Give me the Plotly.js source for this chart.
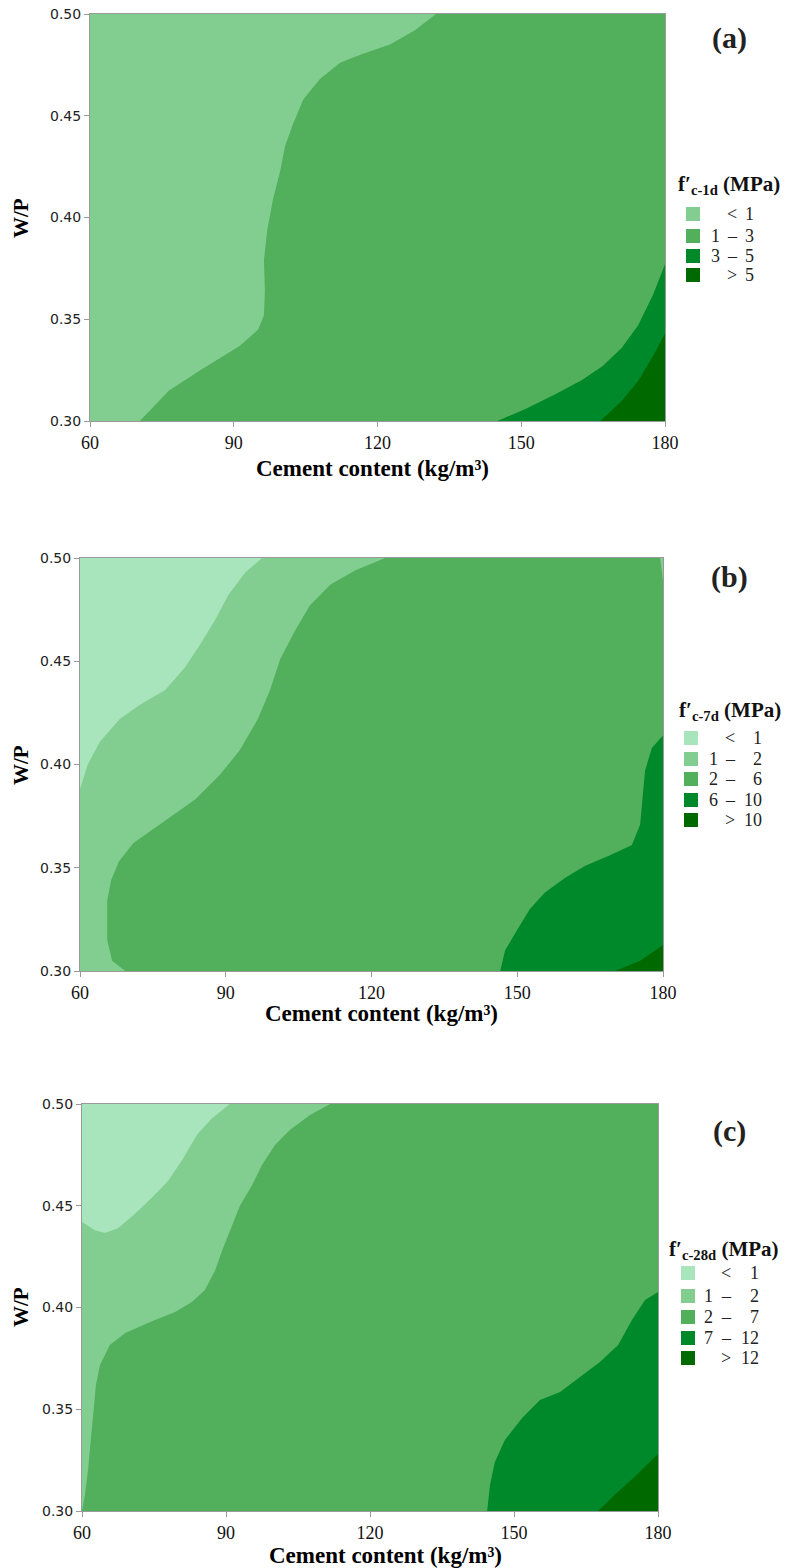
<!DOCTYPE html>
<html><head><meta charset="utf-8">
<script src="https://cdn.plot.ly/plotly-3.0.1.min.js"></script>
<style>html,body{margin:0;padding:0;background:#fff}</style>
</head><body><div id="chart" style="width:788px;height:1568px"></div>
<script>
// ---- axis ticks ----
const xTicks = [60, 90, 120, 150, 180];
const yTicks = [0.30, 0.35, 0.40, 0.45, 0.50];
const colors = ['#a8e4bc', '#82cd90', '#52b05c', '#00892a', '#006a00'];

// ---- panel (a) boundaries: f'c-1d ----
const a1x = [132.2,127.8,122.6,116.4,112.2,108.0,104.5,102.2,100.7,99.7,98.2,97.0,96.3,96.5,96.3,95.1,91.3,83.0,76.5,70.4];
const a1y = [0.50,0.492,0.485,0.480,0.476,0.468,0.458,0.445,0.435,0.423,0.409,0.394,0.379,0.364,0.352,0.345,0.337,0.325,0.315,0.30];
const a2x = [180,177.5,174.4,171.0,167.0,162.6,157.0,151.0,145.0];
const a2y = [0.377,0.362,0.347,0.336,0.327,0.320,0.313,0.306,0.30];
const a3x = [180,177.5,174.5,171.0,166.5];
const a3y = [0.343,0.332,0.320,0.310,0.30];

// ---- panel (b) boundaries: f'c-7d ----
const b1x = [97.5,94.0,90.5,87.8,84.7,81.6,77.5,72.4,68.2,64.1,61.6,60];
const b1y = [0.50,0.493,0.482,0.470,0.458,0.447,0.436,0.429,0.422,0.411,0.400,0.388];
const b2x = [122.8,116.6,111.5,107.3,104.3,101.2,99.1,96.6,92.9,88.8,83.7,76.5,71.0,68.0,66.4,65.6,65.6,66.6,69.3];
const b2y = [0.50,0.494,0.487,0.477,0.465,0.451,0.436,0.422,0.407,0.395,0.383,0.371,0.362,0.353,0.344,0.334,0.315,0.305,0.30];
const b3x = [180,177.7,176.3,175.7,175.3,173.6,169.1,164.0,159.8,155.7,152.6,150.0,147.5,146.5];
const b3y = [0.414,0.408,0.397,0.383,0.371,0.361,0.356,0.351,0.345,0.338,0.330,0.320,0.310,0.30];
const b4x = [170.1,175.3,180];
const b4y = [0.30,0.305,0.3126];
const bsx = [179.4,180,180];
const bsy = [0.50,0.50,0.489];

// ---- panel (c) boundaries: f'c-28d ----
const c1x = [90.8,87.1,84.0,81.0,77.9,74.6,71.0,67.5,64.8,62.7,60];
const c1y = [0.50,0.493,0.485,0.473,0.462,0.454,0.446,0.439,0.4366,0.438,0.442];
const c2x = [111.7,107.5,103.3,100.2,97.5,95.4,92.9,91.25,89.2,87.7,85.6,82.9,79.4,74.2,69.0,65.8,63.75,62.9,62.1,61.25,60.6,60];
const c2y = [0.50,0.4946,0.4872,0.4799,0.470,0.460,0.450,0.4405,0.428,0.418,0.4086,0.4027,0.3978,0.3929,0.3875,0.3816,0.3717,0.3619,0.340,0.320,0.308,0.30];
const c3x = [180,177.3,174.6,171.7,167.9,163.75,159.6,155.4,151.7,148.1,146.0,145.0,144.4];
const c3y = [0.4076,0.4037,0.394,0.3816,0.3732,0.3658,0.3585,0.3545,0.3457,0.3349,0.324,0.3128,0.30];
const c4x = [167.5,171.0,175.2,180];
const c4y = [0.30,0.308,0.317,0.328];

// ---- legends ----
const legA = [['', '<', '1'], ['1', '–', '3'], ['3', '–', '5'], ['', '>', '5']];
const legB = [['', '<', '1'], ['1', '–', '2'], ['2', '–', '6'], ['6', '–', '10'], ['', '>', '10']];
const legC = [['', '<', '1'], ['1', '–', '2'], ['2', '–', '7'], ['7', '–', '12'], ['', '>', '12']];
const legTitles = ["f′<sub>c-1d</sub> (MPa)", "f′<sub>c-7d</sub> (MPa)", "f′<sub>c-28d</sub> (MPa)"];
const panelLabels = ['(a)', '(b)', '(c)'];

const W = 788, H = 1568;
const px = v => v / W, py = v => 1 - v / H;
const XMIN = 60, XMAX = 180, YMIN = 0.30, YMAX = 0.50;

function region(xs, ys) {
  const X = xs.slice(), Y = ys.slice();
  const lx = X[X.length - 1], ly = Y[Y.length - 1];
  if (lx === XMIN && ly > YMIN) { X.push(XMIN); Y.push(YMIN); }
  X.push(XMAX); Y.push(YMIN);
  X.push(XMAX); Y.push(Y[0]);
  return [X, Y];
}
function rect() { return [[XMIN, XMAX, XMAX, XMIN], [YMIN, YMIN, YMAX, YMAX]]; }

const traces = [];
function addPoly(poly, color, ax) {
  traces.push({
    type: 'scatter', mode: 'lines', x: poly[0], y: poly[1], fill: 'toself',
    fillcolor: color, line: {width: 0, color: color}, hoverinfo: 'skip', showlegend: false,
    xaxis: 'x' + ax, yaxis: 'y' + ax
  });
}
// panel a
addPoly(rect(), colors[1], '');
addPoly(region(a1x, a1y), colors[2], '');
addPoly(region(a2x, a2y), colors[3], '');
addPoly(region(a3x, a3y), colors[4], '');
// panel b
addPoly(rect(), colors[0], '2');
addPoly(region(b1x, b1y), colors[1], '2');
addPoly(region(b2x, b2y), colors[2], '2');
addPoly(region(b3x, b3y), colors[3], '2');
addPoly(region(b4x, b4y), colors[4], '2');
addPoly([bsx, bsy], colors[1], '2');
// panel c
addPoly(rect(), colors[0], '3');
addPoly(region(c1x, c1y), colors[1], '3');
addPoly(region(c2x, c2y), colors[2], '3');
addPoly(region(c3x, c3y), colors[3], '3');
addPoly(region(c4x, c4y), colors[4], '3');

// panel geometry (pixels)
const panels = [
  {l: 90, r: 665, t: 14, b: 421},
  {l: 80, r: 663, t: 558, b: 971},
  {l: 82, r: 658, t: 1104, b: 1511}
];
const axisColor = '#9a9a9a';
const serif = 'Liberation Serif, Times New Roman, serif';
const layout = {
  width: W, height: H, margin: {l: 0, r: 0, t: 0, b: 0},
  paper_bgcolor: '#fff', plot_bgcolor: '#fff', showlegend: false,
  shapes: [], annotations: []
};
panels.forEach((p, i) => {
  const sfx = i === 0 ? '' : String(i + 1);
  layout['xaxis' + sfx] = {
    domain: [px(p.l), px(p.r)], range: [XMIN, XMAX], anchor: 'y' + sfx,
    tickvals: xTicks, ticktext: xTicks.map(String), ticks: 'outside', ticklen: 5, tickcolor: axisColor,
    showline: true, linecolor: axisColor, linewidth: 1, mirror: true, showgrid: false, zeroline: false,
    tickfont: {family: serif, size: 18, color: '#111'}
  };
  layout['yaxis' + sfx] = {
    domain: [py(p.b), py(p.t)], range: [YMIN, YMAX], anchor: 'x' + sfx,
    tickvals: yTicks, ticktext: yTicks.map(v => v.toFixed(2)), ticks: 'outside', ticklen: 5, tickcolor: axisColor,
    showline: true, linecolor: axisColor, linewidth: 1, mirror: true, showgrid: false, zeroline: false,
    tickfont: {family: 'DejaVu Sans', size: 14, color: '#222'}
  };
});

// axis titles and panel labels
const xTitleY = [468, 1014, 1555], xTitleX = [372, 381, 385];
const wpY = [218, 765, 1307];
const labelY = [38, 577, 1131];
for (let i = 0; i < 3; i++) {
  layout.annotations.push({xref: 'paper', yref: 'paper', x: px(xTitleX[i]), y: py(xTitleY[i]),
    text: '<b>Cement content (kg/m³)</b>', showarrow: false, xanchor: 'center', yanchor: 'middle',
    font: {family: serif, size: 23, color: '#000'}});
  layout.annotations.push({xref: 'paper', yref: 'paper', x: px(21), y: py(wpY[i]),
    text: '<b>W/P</b>', showarrow: false, textangle: -90, xanchor: 'center', yanchor: 'middle',
    font: {family: serif, size: 21, color: '#000'}});
  layout.annotations.push({xref: 'paper', yref: 'paper', x: px(729), y: py(labelY[i]),
    text: '<b>' + panelLabels[i] + '</b>', showarrow: false, xanchor: 'center', yanchor: 'middle',
    font: {family: serif, size: 30, color: '#222'}});
}

// legends
const legs = [
  {items: legA, title: legTitles[0], tx: 676, ty: 185, sx: 686, ys: [214, 236, 256, 275], cL: 715, cM: 732, cR: 756},
  {items: legB, title: legTitles[1], tx: 677, ty: 711, sx: 684, ys: [738, 759, 779, 800, 820], cL: 713, cM: 730, cR: 764},
  {items: legC, title: legTitles[2], tx: 667, ty: 1250, sx: 681, ys: [1273, 1296, 1317, 1338, 1358], cL: 708, cM: 726, cR: 761}
];
const legColorsA = [colors[1], colors[2], colors[3], colors[4]];
legs.forEach((L, i) => {
  layout.annotations.push({xref: 'paper', yref: 'paper', x: px(L.tx), y: py(L.ty), text: '<b>' + L.title + '</b>',
    showarrow: false, xanchor: 'left', yanchor: 'middle', font: {family: serif, size: 21, color: '#111'}});
  L.items.forEach((it, j) => {
    const col = i === 0 ? legColorsA[j] : colors[j];
    const yc = L.ys[j];
    layout.shapes.push({type: 'rect', xref: 'paper', yref: 'paper', x0: px(L.sx), x1: px(L.sx + 14),
      y0: py(yc + 7), y1: py(yc - 7), fillcolor: col, line: {width: 0}});
    const f = {family: serif, size: 18, color: '#222'};
    if (it[0]) layout.annotations.push({xref: 'paper', yref: 'paper', x: px(L.cL), y: py(yc), text: it[0],
      showarrow: false, xanchor: 'center', yanchor: 'middle', font: f});
    layout.annotations.push({xref: 'paper', yref: 'paper', x: px(L.cM), y: py(yc), text: it[1],
      showarrow: false, xanchor: 'center', yanchor: 'middle', font: f});
    layout.annotations.push({xref: 'paper', yref: 'paper', x: px(L.cR), y: py(yc), text: it[2],
      showarrow: false, xanchor: 'right', yanchor: 'middle', font: f});
  });
});

Plotly.newPlot('chart', traces, layout, {staticPlot: true, displayModeBar: false});
</script></body></html>
